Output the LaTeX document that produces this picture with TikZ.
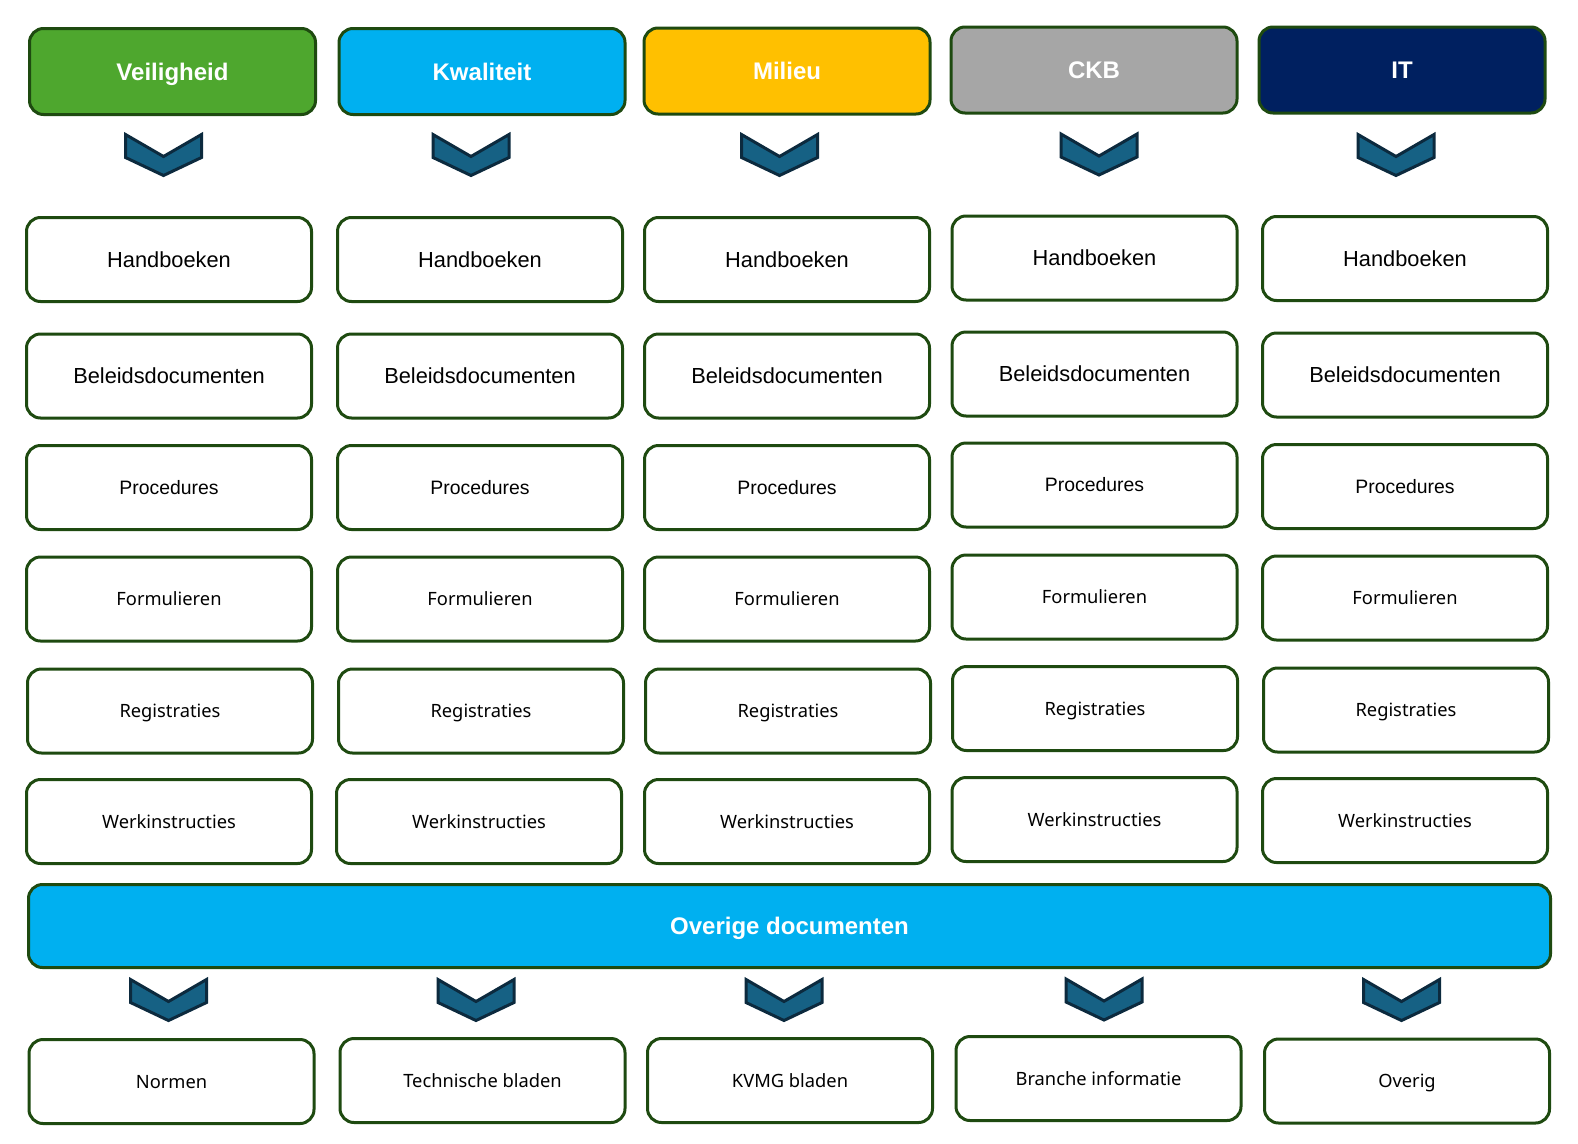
\documentclass[tikz,border=0pt]{standalone}
\usepackage{fontspec}
\newfontfamily\arialf{Liberation Sans}
\newfontfamily\aptosf{Noto Sans}
\definecolor{bgreen}{RGB}{30,74,16}
\definecolor{cgreen}{RGB}{78,167,46}
\definecolor{cblue}{RGB}{0,176,240}
\definecolor{cyellow}{RGB}{255,192,0}
\definecolor{cgrey}{RGB}{166,166,166}
\definecolor{cnavy}{RGB}{0,32,96}
\definecolor{chfill}{RGB}{22,97,132}
\definecolor{chline}{RGB}{12,42,62}
\newcommand\mychev[2]{\draw[chev] (#1-38,#2) -- (#1,#2+22) -- (#1+38,#2) -- (#1+38,#2+23) -- (#1,#2+41) -- (#1-38,#2+23) -- cycle;}
\begin{document}
\begin{tikzpicture}[x=1pt,y=-1pt,
  basebox/.style={draw=bgreen, line width=3pt, rounded corners=14pt, inner sep=0pt, text depth=0pt},
  hdr/.style={basebox, minimum width=286pt, minimum height=86pt, text=white, font=\arialf\bfseries\fontsize{24}{28}\selectfont, text height=17.2pt},
  docbox/.style={basebox, fill=white, minimum width=285pt, minimum height=84pt, font=\arialf\fontsize{21.8}{26}\selectfont, text height=15.6pt},
  procbox/.style={basebox, fill=white, minimum width=285pt, minimum height=84pt, font=\arialf\fontsize{19.4}{23}\selectfont, text height=13.9pt},
  smallbox/.style={basebox, fill=white, minimum width=285pt, minimum height=84pt, font=\aptosf\fontsize{18.3}{22}\selectfont, text height=13.1pt},
  chev/.style={fill=chfill, draw=chline, line width=3pt, line join=miter}
]
\fill[white] (0,0) rectangle (1578,1143);
\useasboundingbox (0,0) rectangle (1578,1143);

% headers
\node[hdr, fill=cgreen]  (h1) at (172.5,71.5) {Veiligheid};
\node[hdr, fill=cblue]   (h2) at (482,71.5) {Kwaliteit};
\node[hdr, fill=cyellow] (h3) at (787,71) {Milieu};
\node[hdr, fill=cgrey]   (h4) at (1094,70) {CKB};
\node[hdr, fill=cnavy]   (h5) at (1402,70) {IT};

% chevrons top
\mychev{163.5}{134.5}
\mychev{471}{134.5}
\mychev{779.5}{134.5}
\mychev{1099}{134}
\mychev{1396}{134.5}

% column 1
\node[docbox]   (a1) at (169,259.5) {Handboeken};
\node[docbox]   (a2) at (169,376) {Beleidsdocumenten};
\node[procbox]  (a3) at (169,487.5) {Procedures};
\node[smallbox] (a4) at (169,599) {Formulieren};
\node[smallbox] (a5) at (170,711) {Registraties};
\node[smallbox] (a6) at (169,821.5) {Werkinstructies};
% column 2
\node[docbox]   (b1) at (480,259.5) {Handboeken};
\node[docbox]   (b2) at (480,376) {Beleidsdocumenten};
\node[procbox]  (b3) at (480,487.5) {Procedures};
\node[smallbox] (b4) at (480,599) {Formulieren};
\node[smallbox] (b5) at (481,711) {Registraties};
\node[smallbox] (b6) at (479,821.5) {Werkinstructies};
% column 3
\node[docbox]   (c1) at (787,259.5) {Handboeken};
\node[docbox]   (c2) at (787,376) {Beleidsdocumenten};
\node[procbox]  (c3) at (787,487.5) {Procedures};
\node[smallbox] (c4) at (787,599) {Formulieren};
\node[smallbox] (c5) at (788,711) {Registraties};
\node[smallbox] (c6) at (787,821.5) {Werkinstructies};
% column 4
\node[docbox]   (d1) at (1094.5,258) {Handboeken};
\node[docbox]   (d2) at (1094.5,374) {Beleidsdocumenten};
\node[procbox]  (d3) at (1094.5,485) {Procedures};
\node[smallbox] (d4) at (1094.5,597) {Formulieren};
\node[smallbox] (d5) at (1095,708.5) {Registraties};
\node[smallbox] (d6) at (1094.5,819.5) {Werkinstructies};
% column 5
\node[docbox]   (e1) at (1405,258.5) {Handboeken};
\node[docbox]   (e2) at (1405,375) {Beleidsdocumenten};
\node[procbox]  (e3) at (1405,486.5) {Procedures};
\node[smallbox] (e4) at (1405,598) {Formulieren};
\node[smallbox] (e5) at (1406,710) {Registraties};
\node[smallbox] (e6) at (1405,820.5) {Werkinstructies};

% bar
\node[basebox, fill=cblue, minimum width=1522pt, minimum height=83pt, text=white, font=\arialf\bfseries\fontsize{24}{28}\selectfont, text height=17.2pt] (bar) at (789.5,926) {Overige documenten};

% chevrons bottom
\mychev{168.5}{979.5}
\mychev{476}{979.5}
\mychev{784}{979.5}
\mychev{1104}{979}
\mychev{1401.5}{979.5}

% bottom boxes
\node[smallbox] (n1) at (171.5,1081.5) {Normen};
\node[smallbox] (n2) at (482.5,1080.5) {Technische bladen};
\node[smallbox] (n3) at (790,1080.5) {KVMG bladen};
\node[smallbox] (n4) at (1098.5,1078.5) {Branche informatie};
\node[smallbox] (n5) at (1407,1081) {Overig};
\end{tikzpicture}
\end{document}
